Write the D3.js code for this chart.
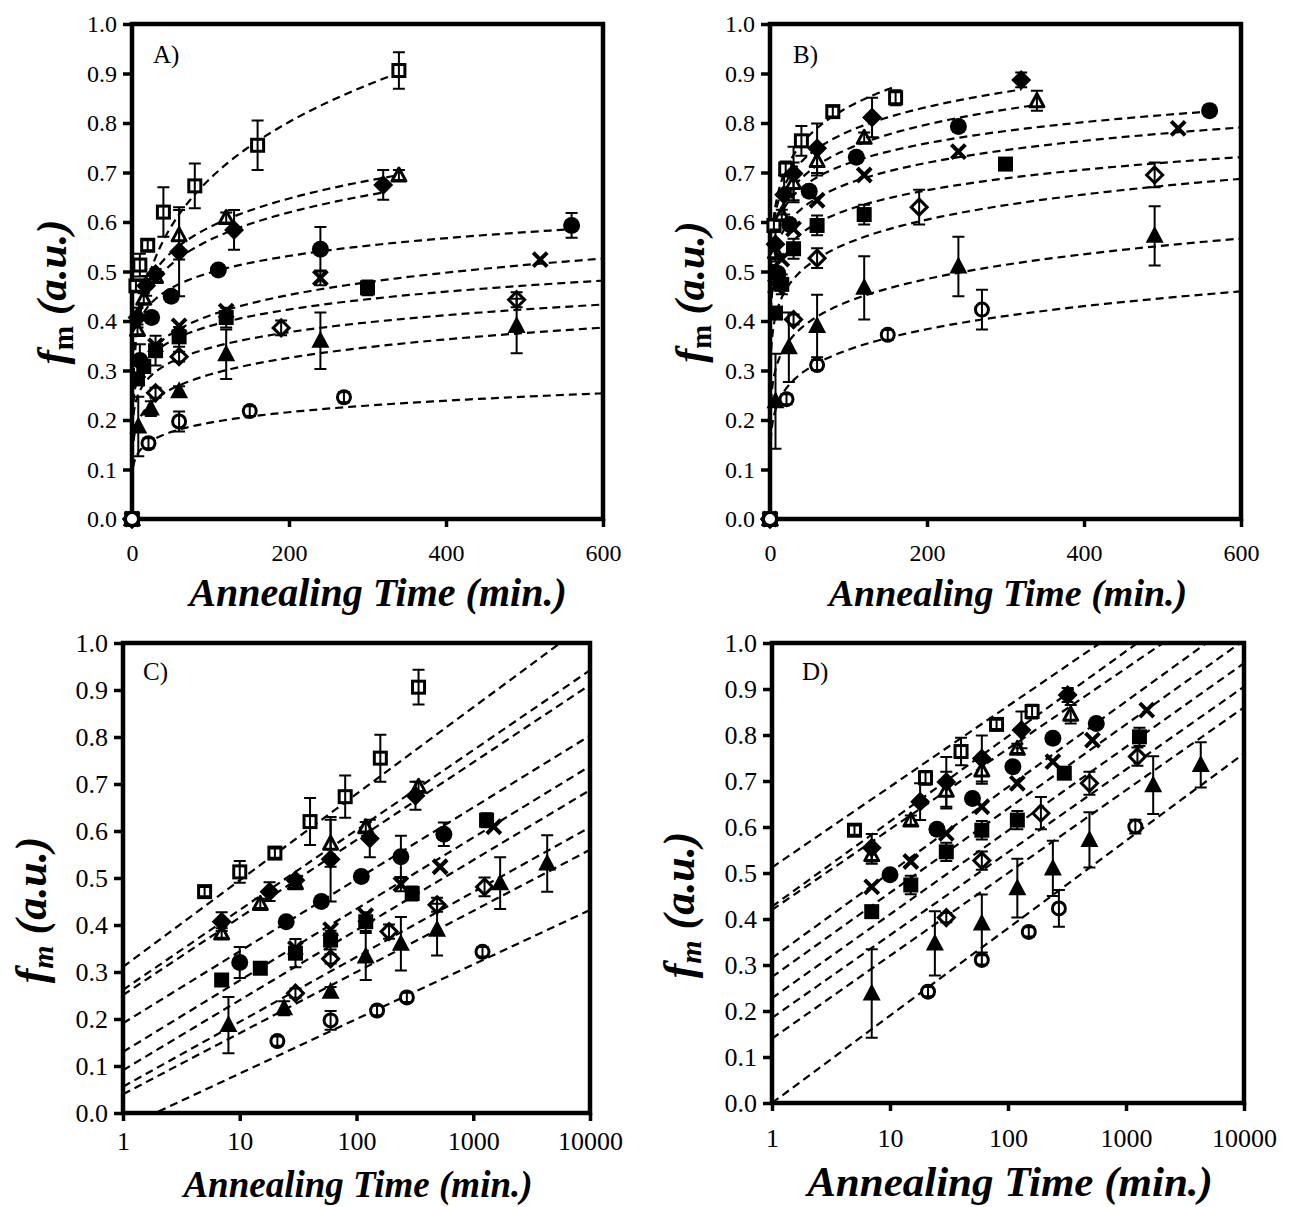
<!DOCTYPE html>
<html>
<head>
<meta charset="utf-8">
<script src="https://cdn.jsdelivr.net/npm/d3@7"></script>
<style>
  body { margin: 0; background: #fff; }
  svg  { display: block; font-family: "Liberation Serif", "Times New Roman", serif; }
</style>
</head>
<body>
<svg id="chart" width="1289" height="1207"></svg>
<script>
/* ───────────────────────────── DATA ───────────────────────────── */
// marker kind of each of the 9 series (same order in every array below)
const markerKinds = ["squareOpen", "triangleOpen", "diamondFilled", "circleFilled", "cross",
                     "squareFilled", "diamondOpen", "triangleFilled", "circleOpen"];

// dataset 1 (panels A and C): annealing time (min), f_m, error (+/-)
const time1 = [
  [0, 5, 10, 20, 40, 80, 160, 340],
  [0, 7, 15, 30, 60, 120, 340],
  [0, 7, 18, 30, 60, 130, 320],
  [0, 10, 25, 50, 110, 240, 560],
  [0, 30, 60, 120, 240, 520, 1500],
  [0, 7, 15, 30, 60, 120, 300, 1300],
  [0, 30, 60, 190, 490, 1250],
  [0, 8, 24, 60, 120, 240, 490, 1700, 4300],
  [0, 21, 60, 150, 270, 1200]
];
const fm1 = [
  [0, 0.471, 0.513, 0.553, 0.62, 0.673, 0.755, 0.906],
  [0, 0.383, 0.446, 0.49, 0.574, 0.609, 0.695],
  [0, 0.407, 0.471, 0.495, 0.54, 0.584, 0.675],
  [0, 0.32, 0.407, 0.45, 0.503, 0.545, 0.593],
  [0, 0.35, 0.39, 0.42, 0.487, 0.524, 0.609],
  [0, 0.283, 0.308, 0.34, 0.368, 0.407, 0.467, 0.623],
  [0, 0.255, 0.328, 0.386, 0.443, 0.481],
  [0, 0.187, 0.223, 0.258, 0.333, 0.36, 0.39, 0.489, 0.531],
  [0, 0.153, 0.197, 0.218, 0.246, 0.343]
];
const err1 = [
  [0, 0.01, 0.023, 0.01, 0.05, 0.045, 0.05, 0.037],
  [0, 0.01, 0.01, 0.01, 0.05, 0.01, 0.01],
  [0, 0.02, 0.02, 0.01, 0.09, 0.04, 0.03],
  [0, 0.033, 0.01, 0.01, 0.01, 0.045, 0.025],
  [0, 0, 0, 0, 0.015, 0, 0],
  [0, 0.01, 0.01, 0.03, 0.02, 0.02, 0.015, 0.015],
  [0, 0.01, 0.01, 0.015, 0.015, 0.02],
  [0, 0.06, 0.015, 0.01, 0.05, 0.057, 0.055, 0.055, 0.06],
  [0, 0.01, 0.02, 0.01, 0.01, 0.01]
];

// dataset 2 (panels B and D)
const time2 = [
  [0, 5, 20, 40, 80, 160],
  [0, 7, 15, 30, 60, 120, 340],
  [0, 7, 18, 30, 60, 130, 320],
  [0, 10, 25, 50, 110, 240, 560],
  [0, 7, 15, 30, 60, 120, 240, 520, 1500],
  [0, 7, 15, 30, 60, 120, 300, 1300],
  [0, 30, 60, 190, 490, 1250],
  [0, 7, 24, 60, 120, 240, 490, 1700, 4300],
  [0, 21, 60, 150, 270, 1200]
];
const fm2 = [
  [0, 0.593, 0.707, 0.764, 0.823, 0.851],
  [0, 0.54, 0.615, 0.68, 0.724, 0.771, 0.845],
  [0, 0.555, 0.655, 0.698, 0.749, 0.811, 0.887],
  [0, 0.496, 0.595, 0.662, 0.731, 0.793, 0.825],
  [0, 0.47, 0.525, 0.586, 0.644, 0.695, 0.742, 0.789, 0.854],
  [0, 0.416, 0.474, 0.546, 0.593, 0.615, 0.717, 0.796],
  [0, 0.403, 0.527, 0.63, 0.695, 0.753],
  [0, 0.238, 0.347, 0.39, 0.467, 0.51, 0.572, 0.691, 0.735],
  [0, 0.242, 0.311, 0.372, 0.423, 0.601]
];
const err2 = [
  [0, 0.01, 0.015, 0.03, 0.01, 0.015],
  [0, 0.02, 0.01, 0.04, 0.03, 0.01, 0.02],
  [0, 0.03, 0.04, 0.054, 0.05, 0.04, 0.015],
  [0, 0.01, 0.01, 0.01, 0.01, 0.01, 0.01],
  [0, 0, 0, 0, 0, 0, 0, 0, 0],
  [0, 0.01, 0.02, 0.02, 0.02, 0.02, 0.01, 0.02],
  [0, 0.01, 0.02, 0.035, 0.025, 0.02],
  [0, 0.096, 0.07, 0.063, 0.064, 0.06, 0.06, 0.063, 0.049],
  [0, 0.01, 0.01, 0.01, 0.04, 0.015]
];

// power-law trend lines f = a * t^n  (linear-axis panels A, B)
const powA_a = [0.25, 0.32, 0.3045, 0.323, 0.219, 0.227, 0.194, 0.1425, 0.0985];
const powA_n = [0.22, 0.133, 0.134, 0.094, 0.137, 0.1176, 0.1256, 0.156, 0.148];
const powB_a = [0.518, 0.4916, 0.521, 0.5, 0.456, 0.418, 0.3264, 0.229, 0.16];
const powB_n = [0.103, 0.0912, 0.0884, 0.0788, 0.0861, 0.0874, 0.1164, 0.1416, 0.165];

// logarithmic trend lines f = a + b*log10(t)  (log-axis panels C, D)
const logC_a = [0.311, 0.262, 0.251, 0.191, 0.13, 0.091, 0.056, 0.04, -0.032];
const logC_b = [0.184, 0.17, 0.165, 0.153, 0.152, 0.149, 0.138, 0.13, 0.116];
const logD_a = [0.512, 0.42, 0.427, 0.315, 0.274, 0.228, 0.185, 0.14, 0.0];
const logD_b = [0.1755, 0.175, 0.185, 0.186, 0.183, 0.182, 0.18, 0.18, 0.19];

// ticks
const yTicks     = [0, 0.1, 0.2, 0.3, 0.4, 0.5, 0.6, 0.7, 0.8, 0.9, 1.0];
const xTicksLin  = [0, 200, 400, 600];
const xTicksLog  = [1, 10, 100, 1000, 10000];
const xTitle     = "Annealing Time (min.)";

/* ───────────────────────────── LAYOUT ───────────────────────────── */
const svg = d3.select("#chart");

const panels = [
  { id: "A", log: false, t: time1, f: fm1, e: err1, fa: powA_a, fb: powA_n,
    x0: 132, x1: 603, y0: 24, y1: 519, tick: 24, pad: 17,
    label: [153, 63], xT: [378, 606, 40], yT: [66, 292, 43], italicSub: false },
  { id: "B", log: false, t: time2, f: fm2, e: err2, fa: powB_a, fb: powB_n,
    x0: 770, x1: 1241, y0: 24, y1: 519, tick: 24, pad: 17,
    label: [793, 63], xT: [1008, 606, 38], yT: [704, 292, 42], italicSub: false },
  { id: "C", log: true, t: time1, f: fm1, e: err1, fa: logC_a, fb: logC_b,
    x0: 123, x1: 590, y0: 643, y1: 1113, tick: 26, pad: 11,
    label: [143, 680], xT: [358, 1197, 37], yT: [46, 910, 44], italicSub: true },
  { id: "D", log: true, t: time2, f: fm2, e: err2, fa: logD_a, fb: logD_b,
    x0: 772, x1: 1244, y0: 643, y1: 1103, tick: 26, pad: 18,
    label: [802, 680], xT: [1010, 1196, 43], yT: [694, 905, 44], italicSub: true }
];

/* ───────────────────────────── MARKERS ───────────────────────────── */
function drawMarker(g, kind, cx, cy) {
  const m = g.append("g").attr("transform", `translate(${cx},${cy})`);
  switch (kind) {
    case "squareOpen":
      m.append("rect").attr("x", -6).attr("y", -6).attr("width", 12).attr("height", 12)
       .attr("fill", "#fff").attr("stroke", "#000").attr("stroke-width", 3); break;
    case "squareFilled":
      m.append("rect").attr("x", -7.5).attr("y", -7.5).attr("width", 15).attr("height", 15)
       .attr("fill", "#000"); break;
    case "triangleOpen":
      m.append("path").attr("d", "M0,-7L7,6L-7,6Z")
       .attr("fill", "#fff").attr("stroke", "#000").attr("stroke-width", 3).attr("stroke-linejoin", "round"); break;
    case "triangleFilled":
      m.append("path").attr("d", "M0,-10L9,7L-9,7Z").attr("fill", "#000"); break;
    case "diamondOpen":
      m.append("path").attr("d", "M0,-8L8,0L0,8L-8,0Z")
       .attr("fill", "#fff").attr("stroke", "#000").attr("stroke-width", 3); break;
    case "diamondFilled":
      m.append("path").attr("d", "M0,-10L10,0L0,10L-10,0Z").attr("fill", "#000"); break;
    case "circleOpen":
      m.append("circle").attr("r", 6.5)
       .attr("fill", "#fff").attr("stroke", "#000").attr("stroke-width", 3); break;
    case "circleFilled":
      m.append("circle").attr("r", 8.5).attr("fill", "#000"); break;
    case "cross":
      m.append("path").attr("d", "M-7,-7L7,7M7,-7L-7,7")
       .attr("stroke", "#000").attr("stroke-width", 4); break;
  }
}

/* ───────────────────────────── PANELS ───────────────────────────── */
function drawPanel(p) {
  const g = svg.append("g");
  const x = p.log
    ? d3.scaleLog().domain([1, 10000]).range([p.x0, p.x1])
    : d3.scaleLinear().domain([0, 600]).range([p.x0, p.x1]);
  const y = d3.scaleLinear().domain([0, 1]).range([p.y1, p.y0]);

  const clipId = "clip" + p.id;
  g.append("clipPath").attr("id", clipId)
    .append("rect").attr("x", p.x0).attr("y", p.y0)
    .attr("width", p.x1 - p.x0).attr("height", p.y1 - p.y0);

  // axes
  const yAxis = g.append("g").attr("transform", `translate(${p.x0},0)`)
    .call(d3.axisLeft(y).tickValues(yTicks).tickFormat(d3.format(".1f"))
            .tickSizeInner(9).tickSizeOuter(0).tickPadding(6));
  const xAxis = g.append("g").attr("transform", `translate(0,${p.y1})`)
    .call(d3.axisBottom(x).tickValues(p.log ? xTicksLog : xTicksLin)
            .tickFormat(d3.format("d"))
            .tickSizeInner(8).tickSizeOuter(0).tickPadding(p.pad));
  [yAxis, xAxis].forEach(a => {
    a.attr("font-family", null);
    a.select(".domain").remove();
    a.selectAll(".tick line").attr("stroke", "#000").attr("stroke-width", 3.5);
    a.selectAll(".tick text").attr("fill", "#000")
      .style("font-size", p.tick + "px").style("font-family", "'Liberation Serif', serif");
  });

  g.append("rect").attr("x", p.x0).attr("y", p.y0)
    .attr("width", p.x1 - p.x0).attr("height", p.y1 - p.y0)
    .attr("fill", "none").attr("stroke", "#000").attr("stroke-width", 4.5);

  // trend lines
  const line = d3.line().x(d => x(d[0])).y(d => y(d[1]));
  const lines = g.append("g").attr("clip-path", `url(#${clipId})`);
  p.t.forEach((ts, i) => {
    let pts;
    if (p.log) {
      pts = [1, 10000].map(t => [t, p.fa[i] + p.fb[i] * Math.log10(t)]);
    } else {
      const tmax = d3.max(ts);
      pts = d3.range(0, 121).map(k => {
        const t = tmax * Math.pow(k / 120, 3);
        return [t, p.fa[i] * Math.pow(t, p.fb[i])];
      });
    }
    lines.append("path").attr("d", line(pts))
      .attr("fill", "none").attr("stroke", "#000")
      .attr("stroke-width", 2.2).attr("stroke-dasharray", "8,5");
  });

  // markers, then error bars on top (as in the original)
  const marks = g.append("g");
  p.t.forEach((ts, i) => {
    ts.forEach((t, j) => {
      if (p.log && t <= 0) return;
      if (!p.log && t > 600) return;
      drawMarker(marks, markerKinds[i], x(t), y(p.f[i][j]));
    });
  });
  p.t.forEach((ts, i) => {
    ts.forEach((t, j) => {
      const e = p.e[i][j];
      if (!e || (p.log && t <= 0) || (!p.log && t > 600)) return;
      const cx = x(t), yt = y(p.f[i][j] + e), yb = y(p.f[i][j] - e);
      marks.append("path")
        .attr("d", `M${cx},${yt}V${yb}M${cx - 6},${yt}H${cx + 6}M${cx - 6},${yb}H${cx + 6}`)
        .attr("stroke", "#000").attr("stroke-width", 2).attr("fill", "none");
    });
  });

  // panel letter
  g.append("text").attr("x", p.label[0]).attr("y", p.label[1])
    .style("font-size", "25px").text(p.id + ")");

  // x title
  g.append("text").attr("x", p.xT[0]).attr("y", p.xT[1])
    .attr("text-anchor", "middle")
    .style("font-size", p.xT[2] + "px").style("font-weight", "bold").style("font-style", "italic")
    .text(xTitle);

  // y title: f_m (a.u.)
  const yt = g.append("text")
    .attr("transform", `translate(${p.yT[0]},${p.yT[1]}) rotate(-90)`)
    .attr("text-anchor", "middle")
    .style("font-size", p.yT[2] + "px").style("font-weight", "bold");
  yt.append("tspan").style("font-style", "italic").text("f");
  yt.append("tspan").attr("dy", "0.25em").style("font-size", "0.68em")
    .style("font-style", p.italicSub ? "italic" : "normal").text("m");
  yt.append("tspan").attr("dy", "-0.17em").style("font-style", "italic").text(" (a.u.)");
}

panels.forEach(drawPanel);
</script>
</body>
</html>
